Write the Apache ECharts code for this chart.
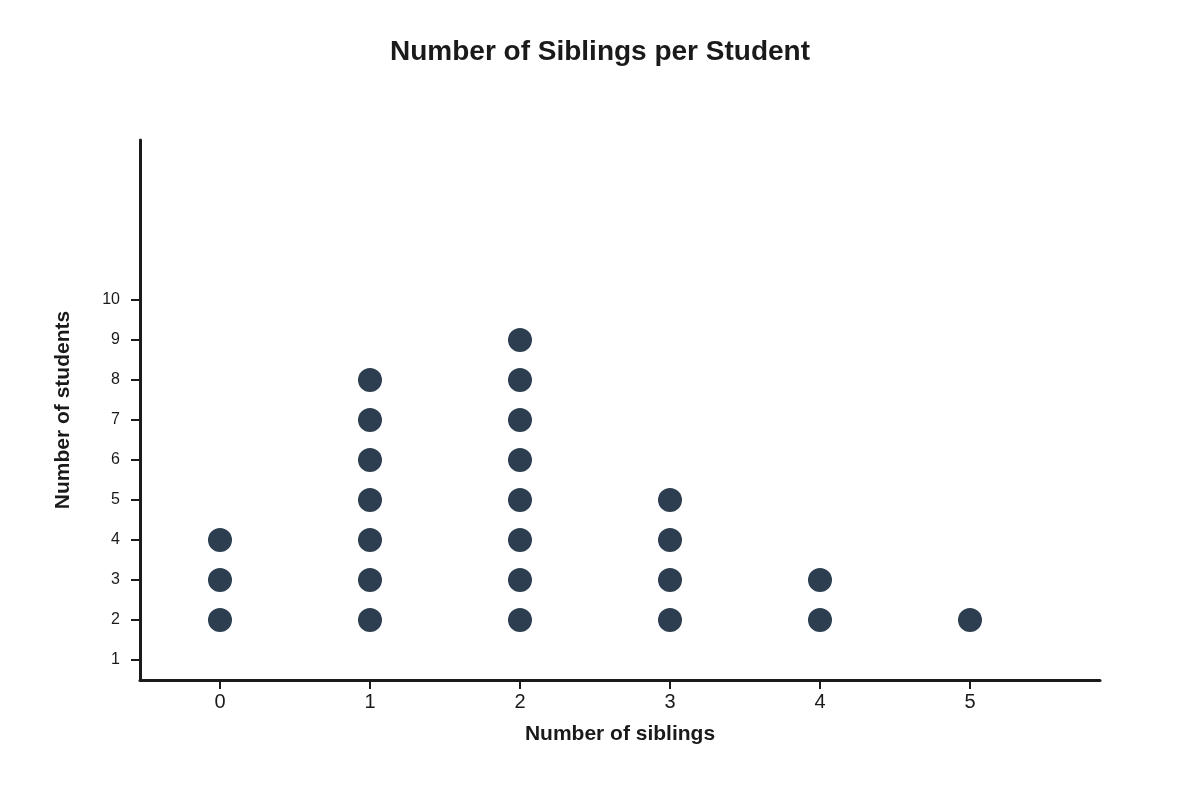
<!DOCTYPE html>
<html><head><meta charset="utf-8">
<script src="https://cdn.jsdelivr.net/npm/echarts@6/dist/echarts.min.js"></script>
<style>html,body{margin:0;padding:0;background:#fff}#c{width:1200px;height:800px}</style>
</head><body><div id="c"></div>
<script>
const xTicks = [0, 1, 2, 3, 4, 5];
const yTicks = [1, 2, 3, 4, 5, 6, 7, 8, 9, 10];
const dotX = [0,0,0, 1,1,1,1,1,1,1, 2,2,2,2,2,2,2,2, 3,3,3,3, 4,4, 5];
const dotY = [2,3,4, 2,3,4,5,6,7,8, 2,3,4,5,6,7,8,9, 2,3,4,5, 2,3, 2];
const points = dotX.map((x, i) => [x, dotY[i]]);
const font = 'Liberation Sans, Arial, sans-serif';
const chart = echarts.init(document.getElementById('c'));
chart.setOption({
  animation: false,
  title: { text: 'Number of Siblings per Student', left: 'center', top: 33,
    textStyle: { fontFamily: font, fontSize: 28, fontWeight: 'bold', color: '#1a1a1a' } },
  grid: { left: 140, right: 100, top: 140, bottom: 120 },
  xAxis: { type: 'value', min: -80/150, max: 880/150,
    name: 'Number of siblings', nameLocation: 'middle', nameGap: 44,
    nameTextStyle: { fontFamily: font, fontSize: 21, fontWeight: 'bold', color: '#1a1a1a' },
    axisLine: { onZero: false, lineStyle: { color: '#1a1a1a', width: 3 } },
    axisTick: { show: true, length: 9, customValues: xTicks, lineStyle: { color: '#1a1a1a', width: 2 } },
    axisLabel: { customValues: xTicks, fontFamily: font, fontSize: 20, color: '#1a1a1a', margin: 12 },
    splitLine: { show: false } },
  yAxis: { type: 'value', min: 0.5, max: 14,
    name: 'Number of students', nameLocation: 'middle', nameGap: 66, nameRotate: 90,
    nameTextStyle: { fontFamily: font, fontSize: 21, fontWeight: 'bold', color: '#1a1a1a' },
    axisLine: { show: true, onZero: false, lineStyle: { color: '#1a1a1a', width: 3 } },
    axisTick: { show: true, length: 9, customValues: yTicks, lineStyle: { color: '#1a1a1a', width: 2 } },
    axisLabel: { customValues: yTicks, fontFamily: font, fontSize: 16, color: '#1a1a1a', margin: 20, verticalAlign: 'middle', padding: [0, 0, 10, 0] },
    splitLine: { show: false } },
  series: [{ type: 'scatter', data: points, symbolSize: 24,
    itemStyle: { color: '#2d3e50', opacity: 1 } }]
});
</script></body></html>
